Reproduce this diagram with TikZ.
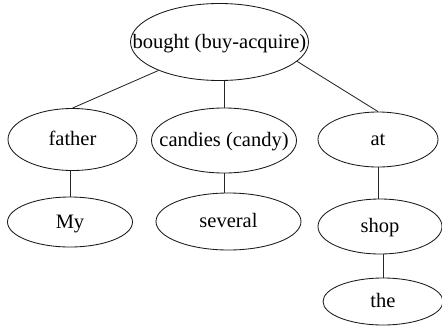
\documentclass[tikz,border=0pt]{standalone}
\usepackage{fontspec}
\setmainfont{Liberation Serif}
\usetikzlibrary{shapes.geometric}
\newcommand{\lbl}[1]{\makebox[0pt]{#1}}
\tikzset{
  wordnode/.style={ellipse, draw=black!90, line width=0.85pt, inner sep=0pt,
    text height=15pt, text depth=3pt, text=black,
    font=\fontsize{20.5}{24}\selectfont},
  link/.style={draw=black!85, line width=0.85pt}
}
\begin{document}
\begin{tikzpicture}[x=1pt,y=-1pt]
\useasboundingbox (0,0) rectangle (442,327);
\node[wordnode, minimum width=178pt, minimum height=77pt] (root) at (219.5,42) {\lbl{bought (buy-acquire)}};
\node[wordnode, minimum width=129pt, minimum height=62pt] (father) at (72.5,139.5) {\lbl{father}};
\node[wordnode, minimum width=145pt, minimum height=65pt] (candies) at (224,140.5) {\lbl{candies (candy)}};
\node[wordnode, minimum width=120pt, minimum height=55pt] (at) at (378,139.5) {\lbl{at}};
\node[wordnode, minimum width=125pt, minimum height=50pt] (my) at (70,222) {\lbl{My}};
\node[wordnode, minimum width=145pt, minimum height=57pt] (several) at (228.5,221.5) {\lbl{several}};
\node[wordnode, minimum width=124pt, minimum height=55pt] (shop) at (380,226.5) {\lbl{shop}};
\node[wordnode, minimum width=120pt, minimum height=47pt] (the) at (383,301.5) {\lbl{the}};
\draw[link] (root.205) -- (father.north);
\draw[link] (candies.north) -- (candies.north |- root.south);
\draw[link] (root.-14) -- (at.north);
\draw[link] (my.north) -- (my.north |- father.south);
\draw[link] (candies.south) -- (candies.south |- several.north);
\draw[link] (at.south) -- (at.south |- shop.north);
\draw[link] (the.north) -- (the.north |- shop.south);
\end{tikzpicture}
\end{document}
